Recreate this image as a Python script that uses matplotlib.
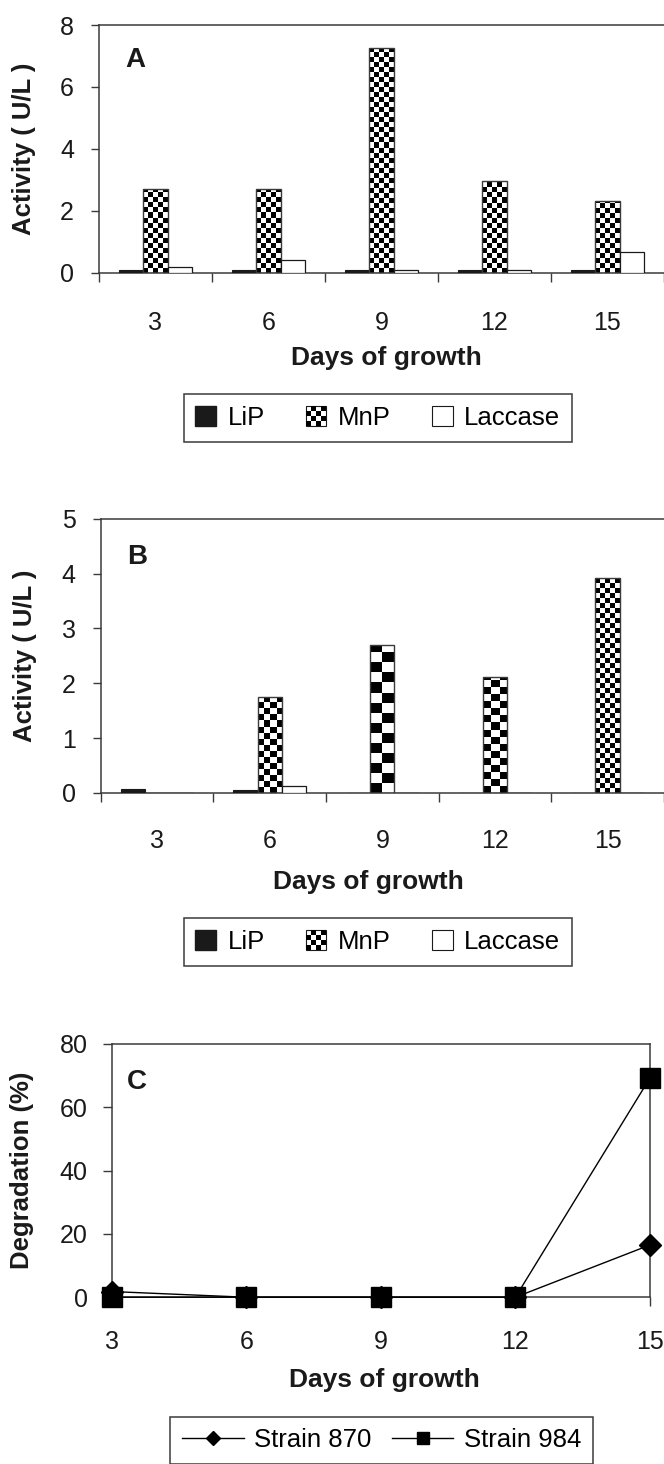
import numpy as np
import matplotlib
matplotlib.use("Agg")
import matplotlib.pyplot as plt
from matplotlib.patches import Patch, Rectangle
from matplotlib.lines import Line2D
from matplotlib.legend_handler import HandlerBase

plt.rcParams["font.family"] = ["Liberation Sans", "DejaVu Sans"]

# ---- data ----
days = ["3", "6", "9", "12", "15"]

# panel A (U/L)
a_lip = [0.1, 0.1, 0.1, 0.1, 0.1]
a_mnp = [2.69, 2.69, 7.27, 2.95, 2.32]
a_lac = [0.2, 0.4, 0.1, 0.1, 0.66]

# panel B (U/L)
b_lip = [0.06, 0.05, 0.0, 0.0, 0.0]
b_mnp = [0.0, 1.74, 2.69, 2.12, 3.92]
b_lac = [0.0, 0.12, 0.0, 0.0, 0.0]

# panel C (degradation %)
c_days = [3, 6, 9, 12, 15]
c_870 = [1.8, 0.0, 0.0, 0.0, 16.5]
c_984 = [0.0, 0.0, 0.0, 0.0, 69.2]

# checker cell size (pixels) of the MnP fill, as it appears in the scan
a_cell = [5, 5, 5, 5, 5]
b_cell = [6, 6, 10, 7, 5]

INK = "#1a1a1a"
EDGE = "#3a3a3a"
W = 0.215
TICK_FS = 18
LABEL_FS = 19
LEG_FS = 18.5


class CheckerHandler(HandlerBase):
    def create_artists(self, legend, orig_handle, xdescent, ydescent,
                       width, height, fontsize, trans):
        x0, y0 = -xdescent, -ydescent
        arts = [Rectangle((x0, y0), width, height, fc="white", ec=INK,
                          lw=0.8, transform=trans)]
        n = 4
        cw, ch = width / n, height / n
        for i in range(n):
            for j in range(n):
                if (i + j) % 2 == 0:
                    arts.append(Rectangle((x0 + i * cw, y0 + j * ch), cw, ch,
                                          fc="black", ec="none", transform=trans))
        return arts


class MnPHandle(Patch):
    pass


def checker_fill(ax, bars, cells):
    # paint a checkerboard inside each bar, clipped to the bar outline
    px_x = ax.transData.transform((1, 0))[0] - ax.transData.transform((0, 0))[0]
    px_y = ax.transData.transform((0, 1))[1] - ax.transData.transform((0, 0))[1]
    for bar, cell in zip(bars, cells):
        h = bar.get_height()
        if h <= 0:
            continue
        x0, w = bar.get_x(), bar.get_width()
        nc = max(1, int(round(w * px_x / cell)))
        nr = int(np.ceil(h * px_y / cell))
        img = (np.add.outer(np.arange(nr), np.arange(nc)) % 2).astype(float)
        top = nr * cell / px_y
        im = ax.imshow(img, cmap="gray", vmin=0, vmax=1, interpolation="nearest",
                       extent=(x0, x0 + w, top, 0), aspect="auto", zorder=2)
        im.set_clip_path(bar)


def bar_panel(ax, lip, mnp, lac, cells, ymax, letter):
    x = np.arange(len(days))
    ax.bar(x - W, lip, W, color=INK, edgecolor=INK, lw=0.8, zorder=3)
    mb = ax.bar(x, mnp, W, facecolor="none", edgecolor=EDGE, lw=1.0, zorder=3)
    ax.bar(x + W, lac, W, facecolor="white", edgecolor=INK, lw=0.9, zorder=3)
    ax.set_xlim(-0.5, len(days) - 0.5)
    ax.set_ylim(0, ymax)
    checker_fill(ax, mb, cells)
    ax.set_xlim(-0.5, len(days) - 0.5)
    ax.set_ylim(0, ymax)

    ax.set_xticks(x)
    ax.set_xticklabels(days)
    ax.set_xticks(np.arange(len(days) + 1) - 0.5, minor=True)
    ax.tick_params(axis="x", which="major", length=0, labelsize=TICK_FS, colors=INK)
    ax.tick_params(axis="x", which="minor", length=6.5, width=1, color=EDGE,
                   direction="out")
    ax.tick_params(axis="y", length=6, width=1, color=EDGE, labelsize=TICK_FS,
                   labelcolor=INK, pad=12)
    ax.spines["right"].set_visible(False)
    for s in ("left", "bottom", "top"):
        ax.spines[s].set_color(EDGE)
        ax.spines[s].set_linewidth(1.1)
    ax.text(0.046, 0.86, letter, transform=ax.transAxes, fontsize=20,
            fontweight="bold", va="center", ha="left", color=INK)


fig = plt.figure(figsize=(6.64, 14.64), dpi=100)

# ---- panel A ----
axA = fig.add_axes([0.149, 0.8137, 0.851, 0.1692])
bar_panel(axA, a_lip, a_mnp, a_lac, a_cell, 8, "A")
axA.set_yticks([0, 2, 4, 6, 8])
axA.tick_params(axis="x", which="major", pad=27.5)
axA.set_ylabel("Activity ( U/L )", fontsize=18.5, fontweight="bold", va="center", color=INK)
axA.yaxis.set_label_coords(-0.133, 0.5)
axA.set_xlabel("Days of growth", fontsize=LABEL_FS, fontweight="bold", va="center", color=INK)
axA.xaxis.set_label_coords(0.508, -0.344)

# ---- panel B ----
axB = fig.add_axes([0.1518, 0.4585, 0.848, 0.187])
bar_panel(axB, b_lip, b_mnp, b_lac, b_cell, 5, "B")
axB.set_yticks([0, 1, 2, 3, 4, 5])
axB.tick_params(axis="x", which="major", pad=26)
axB.set_ylabel("Activity ( U/L )", fontsize=18.5, fontweight="bold", va="center", color=INK)
axB.yaxis.set_label_coords(-0.1346, 0.5)
axB.set_xlabel("Days of growth", fontsize=LABEL_FS, fontweight="bold", va="center", color=INK)
axB.xaxis.set_label_coords(0.476, -0.325)

bar_handles = [
    Patch(facecolor=INK, edgecolor=INK, label="LiP"),
    MnPHandle(facecolor="white", edgecolor=INK, label="MnP"),
    Patch(facecolor="white", edgecolor=INK, lw=0.8, label="Laccase"),
]
for yc in (0.7145, 0.3566):
    leg = fig.legend(handles=bar_handles, loc="center", bbox_to_anchor=(0.569, yc),
                     ncol=3, fontsize=LEG_FS, frameon=True, fancybox=False,
                     edgecolor=EDGE, framealpha=1, borderpad=0.45,
                     handlelength=0.8, handleheight=0.8, handletextpad=0.45,
                     columnspacing=1.6, handler_map={MnPHandle: CheckerHandler()})
    leg.get_frame().set_linewidth(1.1)

# ---- panel C ----
axC = fig.add_axes([0.1687, 0.1139, 0.810, 0.173])
axC.plot(c_days, c_870, color="black", lw=1, marker="D", markersize=11,
         clip_on=False, zorder=3, label="Strain 870")
axC.plot(c_days, c_984, color="black", lw=1, marker="s", markersize=14,
         clip_on=False, zorder=4, label="Strain 984")
axC.set_xlim(3, 15)
axC.set_ylim(0, 80)
axC.set_xticks(c_days)
axC.set_yticks([0, 20, 40, 60, 80])
axC.tick_params(axis="x", length=6.7, width=1, color=EDGE, labelsize=TICK_FS,
                labelcolor=INK, pad=17)
axC.tick_params(axis="y", length=6.5, width=1, color=EDGE, labelsize=TICK_FS,
                labelcolor=INK, pad=11)
for s in axC.spines.values():
    s.set_color(EDGE)
    s.set_linewidth(1.1)
axC.text(0.028, 0.851, "C", transform=axC.transAxes, fontsize=20,
         fontweight="bold", va="center", ha="left", color=INK)
axC.set_ylabel("Degradation (%)", fontsize=18.5, fontweight="bold", va="center", color=INK)
axC.yaxis.set_label_coords(-0.1667, 0.5)
axC.set_xlabel("Days of growth", fontsize=LABEL_FS, fontweight="bold", va="center", color=INK)
axC.xaxis.set_label_coords(0.506, -0.3265)

line_handles = [
    Line2D([], [], color="black", lw=1, marker="D", markersize=7, label="Strain 870"),
    Line2D([], [], color="black", lw=1, marker="s", markersize=8, label="Strain 984"),
]
legC = fig.legend(handles=line_handles, loc="center", bbox_to_anchor=(0.5745, 0.0162),
                  ncol=2, fontsize=LEG_FS, frameon=True, fancybox=False, edgecolor=EDGE,
                  framealpha=1, borderpad=0.45, handlelength=2.4, handletextpad=0.4,
                  columnspacing=0.8)
legC.get_frame().set_linewidth(1.1)

fig.savefig("out.png", dpi=100)
